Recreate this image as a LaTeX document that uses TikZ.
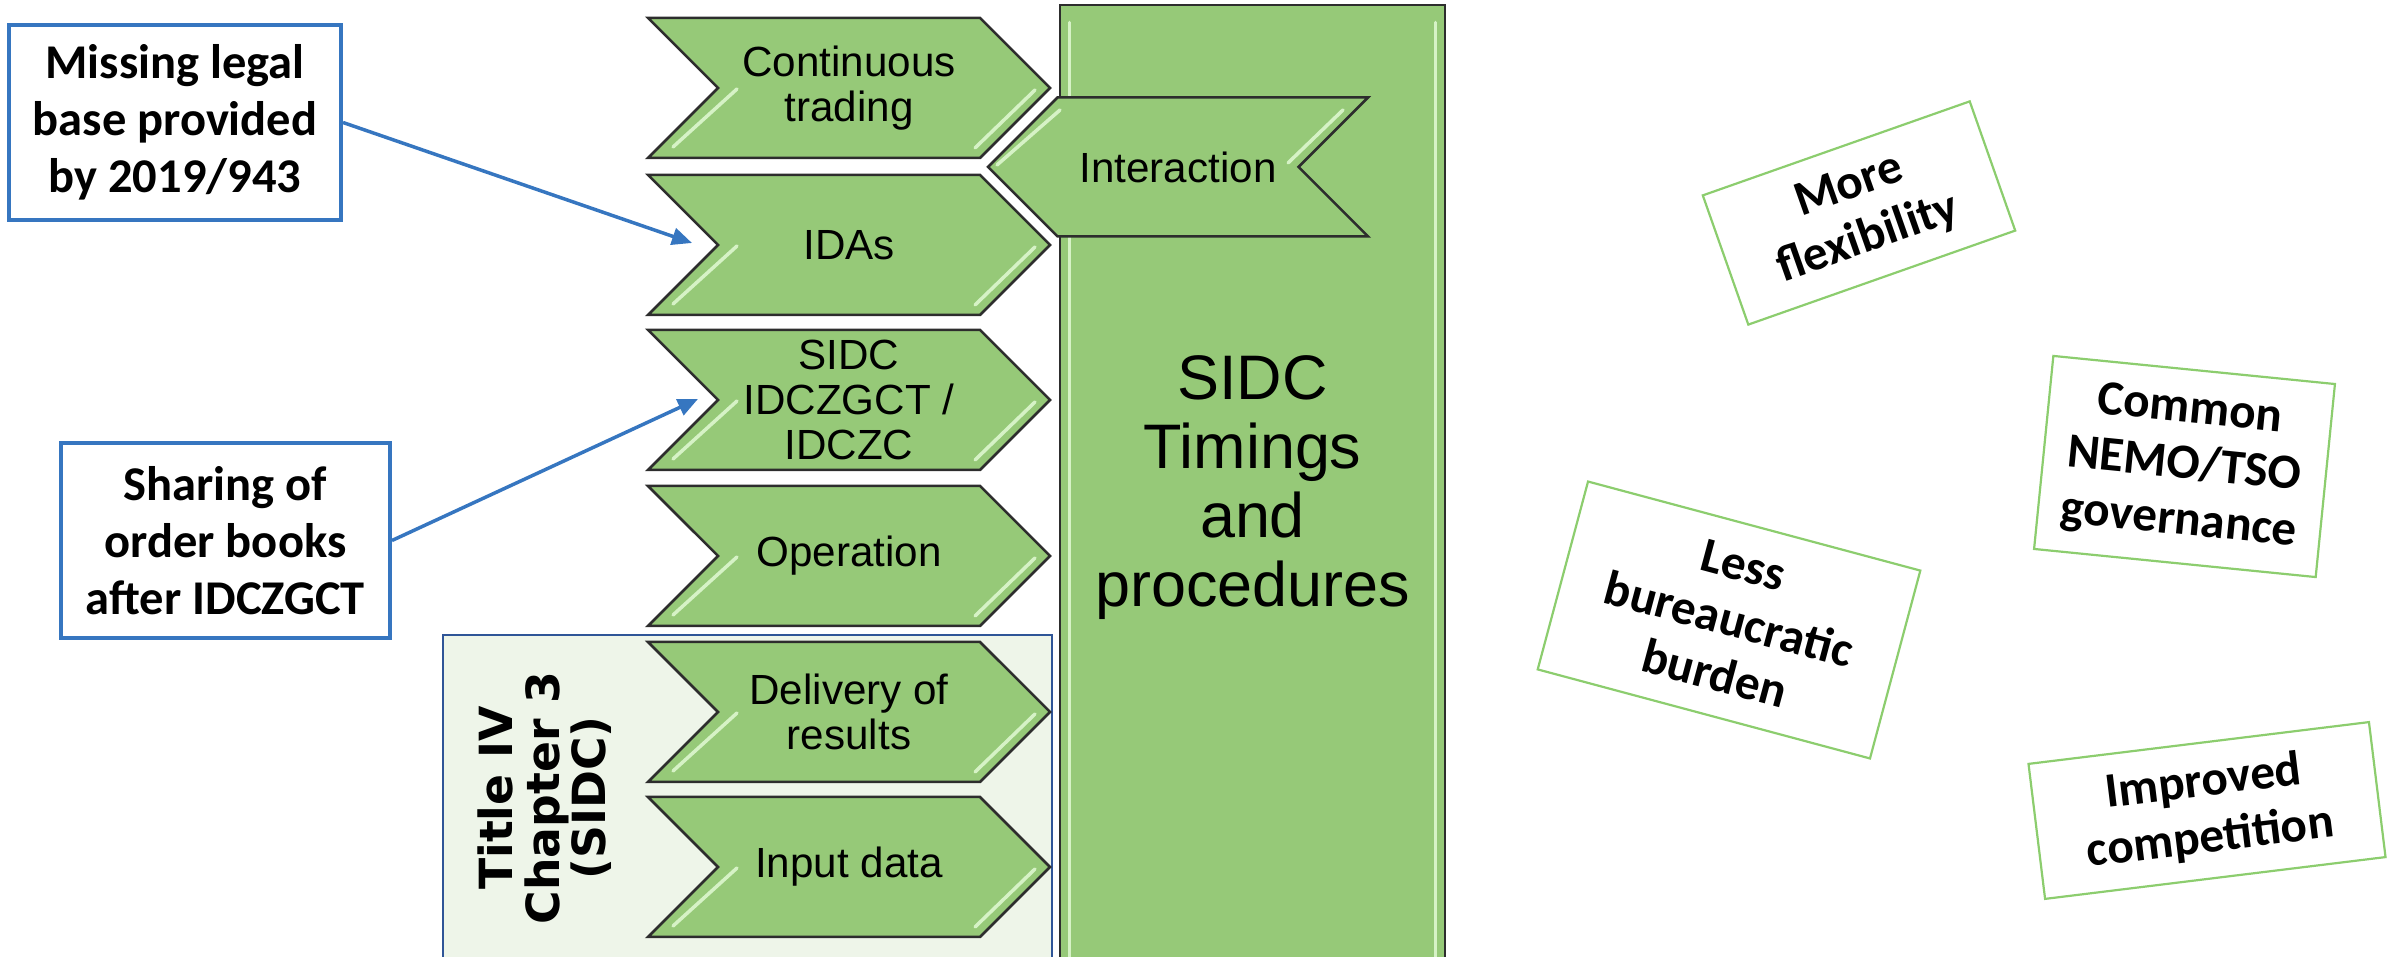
\documentclass[tikz,border=0pt]{standalone}
\usepackage{fontspec}
\usepackage{tikz}
\usetikzlibrary{shapes.symbols, arrows.meta, positioning}
\setmainfont{Liberation Sans}
\newfontfamily\calfont{Carlito}
\newfontfamily\widefont{DejaVu Sans}
\definecolor{chevgreen}{RGB}{150,201,120}
\definecolor{glintgreen}{RGB}{214,242,198}
\definecolor{notegreen}{RGB}{140,205,110}
\definecolor{noteblue}{RGB}{54,118,192}
\definecolor{framebg}{RGB}{238,245,233}
\definecolor{frameblue}{RGB}{47,85,151}
\definecolor{edgegrey}{RGB}{45,45,45}
\tikzset{
    glint/.style={glintgreen, line width=0.35mm, line cap=round},
    chev/.style={signal, signal to=east, signal from=west, signal pointer angle=90,
        draw=edgegrey, line width=0.25mm, fill=chevgreen, minimum width=40.2mm, minimum height=14mm,
        inner sep=0pt, align=center, font=\fontsize{12}{12.8}\selectfont,
        path picture={\draw[glint]
            ([shift={(-11.2,0.1)}]path picture bounding box.center) -- ([shift={(-17.6,5.9)}]path picture bounding box.center)
            ([shift={(18.6,0.2)}]path picture bounding box.center) -- ([shift={(12.6,6.0)}]path picture bounding box.center);}},
    backchev/.style={signal, signal to=west, signal from=east, signal pointer angle=90,
        draw=edgegrey, line width=0.25mm, fill=chevgreen, minimum width=38mm, minimum height=13.9mm,
        inner sep=0pt, align=center, font=\fontsize{12}{12.8}\selectfont,
        path picture={\draw[glint]
            ([shift={(-18.1,-0.2)}]path picture bounding box.center) -- ([shift={(-11.8,-5.7)}]path picture bounding box.center)
            ([shift={(11.0,-0.4)}]path picture bounding box.center) -- ([shift={(16.5,-5.7)}]path picture bounding box.center);}},
    pillar/.style={draw=edgegrey, line width=0.25mm, fill=chevgreen, inner sep=0pt, align=center,
        font=\fontsize{17.9}{19.6}\selectfont,
        path picture={\draw[glint]
            ([shift={(-18.3,-46.5)}]path picture bounding box.center) -- ([shift={(-18.3,47)}]path picture bounding box.center)
            ([shift={(18.3,-46.5)}]path picture bounding box.center) -- ([shift={(18.3,47)}]path picture bounding box.center);}},
    note/.style={draw=noteblue, line width=0.4mm, fill=white, inner sep=0pt, align=center,
        font=\calfont\bfseries\fontsize{13.8}{16.2}\selectfont},
    gain/.style={draw=notegreen, line width=0.22mm, inner sep=0pt, align=center,
        font=\calfont\bfseries\fontsize{14}{16}\selectfont},
    link/.style={draw=noteblue, line width=0.35mm, -{Triangle[length=2mm, width=1.7mm]}}
}
\begin{document}
\begin{tikzpicture}[x=1mm, y=-1mm]
    \useasboundingbox (0,0) rectangle (239.7,95.7);
    \clip (0,0) rectangle (239.7,95.7);
    \node[draw=frameblue, line width=0.2mm, fill=framebg, minimum width=60.9mm, minimum height=36.5mm] (frame) at (74.75,81.75) {};
    \node[rotate=90, align=center, font=\widefont\bfseries\fontsize{13}{13.2}\selectfont] (titlelbl) at (54.5,79.8) {Title IV\\Chapter 3\\(SIDC)};
    \node[chev] (cont) at (84.9,8.8) {Continuous\\trading};
    \node[chev] (idas) at (84.9,24.5) {IDAs};
    \node[chev] (sidc) at (84.9,40.0) {SIDC\\IDCZGCT /\\IDCZC};
    \node[chev] (oper) at (84.9,55.6) {Operation};
    \node[chev] (deliv) at (84.9,71.2) {Delivery of\\results};
    \node[chev] (input) at (84.9,86.7) {Input data};
    \node[pillar, minimum width=38.5mm, minimum height=96.5mm] (timing) at (125.25,48.75) {SIDC\\Timings\\and\\procedures};
    \node[backchev] (inter) at (117.8,16.7) {Interaction};
    \node[note, minimum width=33.2mm, minimum height=19.5mm] (legal) at (17.5,12.25) {Missing legal\\base provided\\by 2019/943};
    \node[note, minimum width=32.9mm, minimum height=19.5mm] (books) at (22.55,54.05) {Sharing of\\order books\\after IDCZGCT};
    \draw[link] (legal.east) -- ([shift={(-15.7,-0.2)}]idas.center);
    \draw[link] (books.east) -- ([shift={(-15.1,-0.1)}]sidc.center);
    \node[gain, rotate=19.4, minimum width=28.3mm, minimum height=13.7mm] (flex) at (185.9,21.3) {More\\flexibility};
    \node[gain, rotate=-5.7, minimum width=28.3mm, minimum height=19.4mm] (gov) at (218.45,46.65) {Common\\NEMO/TSO\\governance};
    \node[gain, rotate=-15, minimum width=34.4mm, minimum height=19.45mm] (burden) at (172.9,62.0) {Less\\bureaucratic\\burden};
    \node[gain, rotate=7, minimum width=34.3mm, minimum height=13.6mm] (compet) at (220.7,81.05) {Improved\\competition};
\end{tikzpicture}
\end{document}
